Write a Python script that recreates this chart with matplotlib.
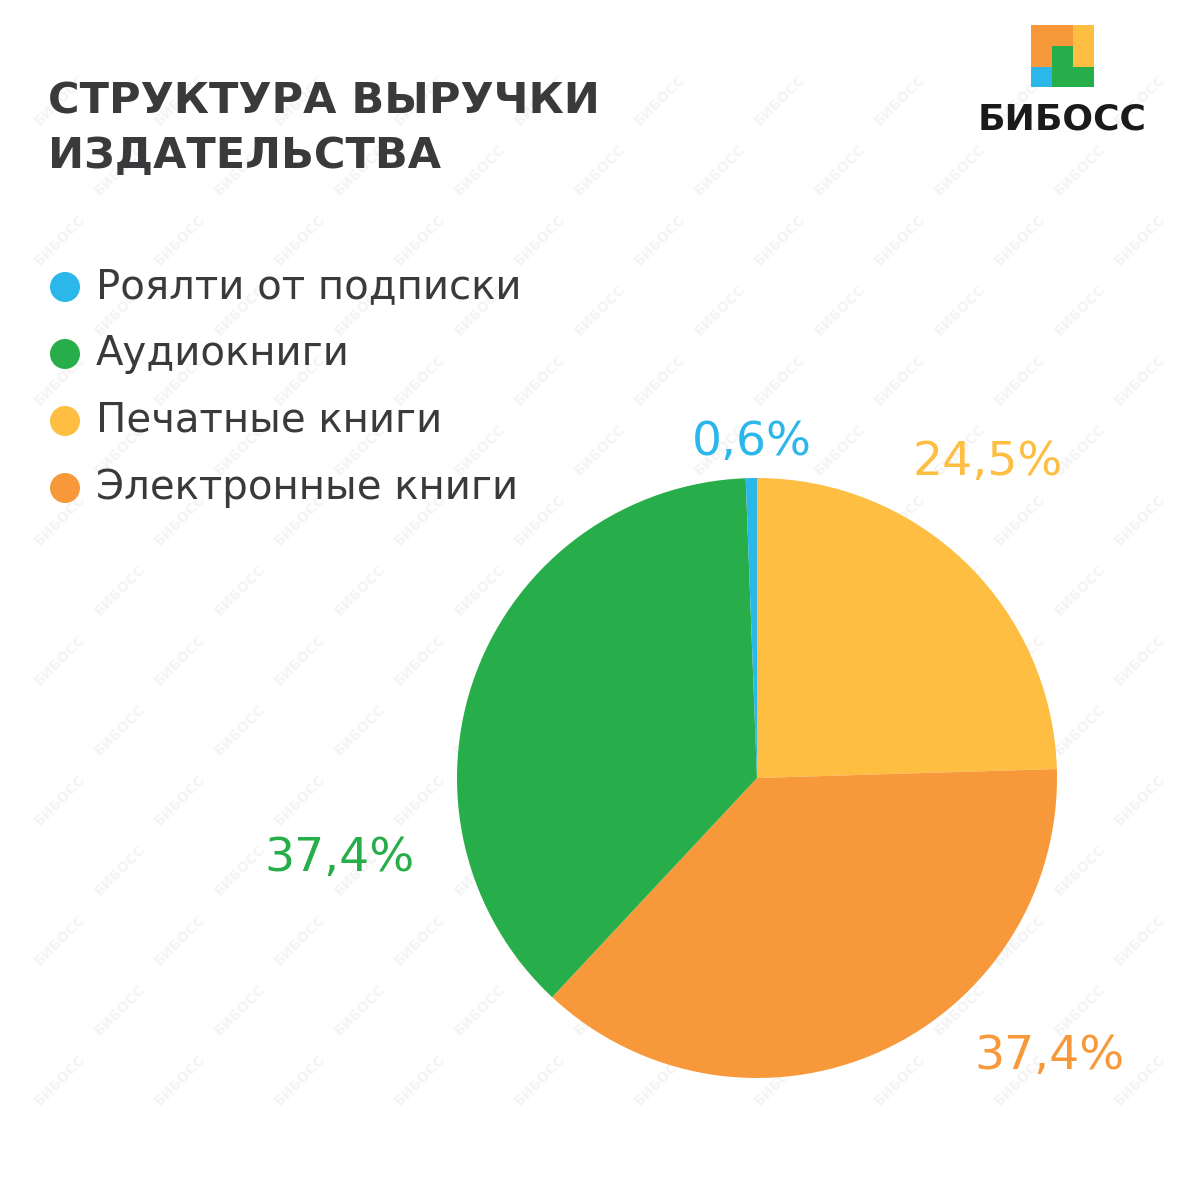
import numpy as np
import matplotlib.pyplot as plt
from matplotlib.patches import Rectangle, Circle

# --- DATA ---
categories = ['Роялти от подписки', 'Аудиокниги', 'Печатные книги', 'Электронные книги']
colors = ['#2BB7EA', '#27AE4A', '#FDBE41', '#F7993B']
# pie order (clockwise from top): printed, e-books, audio, royalties
pie_values = [24.5, 37.4, 37.4, 0.6]
pie_colors = [colors[2], colors[3], colors[1], colors[0]]
pie_labels = ['24,5%', '37,4%', '37,4%', '0,6%']

W = H = 1180
plt.rcParams['font.family'] = ['DejaVu Sans']

fig = plt.figure(figsize=(W / 100, H / 100), dpi=100)
fig.patch.set_facecolor('white')

lax = fig.add_axes([0, 0, 1, 1], zorder=1)
lax.set_xlim(0, W)
lax.set_ylim(H, 0)
lax.axis('off')

# --- watermark ---
for j in range(0, 20):
    for i in range(-2, 14):
        x = i * 120 + (j % 2) * 60
        y = j * 70 + 30
        if 40 <= x <= W - 40 and 40 <= y <= H - 40:
            lax.text(x, y, 'БИБОСС', fontsize=10, fontweight='bold', color='#f4f4f4',
                     rotation=45, ha='center', va='center', zorder=0)

# --- title ---
lax.text(48, 102, 'СТРУКТУРА ВЫРУЧКИ', fontsize=31, fontweight='bold',
         color='#3a3a3c', ha='left', va='center')
lax.text(48, 156, 'ИЗДАТЕЛЬСТВА', fontsize=31, fontweight='bold',
         color='#3a3a3c', ha='left', va='center')

# --- logo ---
lax.add_patch(Rectangle((1031, 25), 42, 42, color=colors[3], lw=0))
lax.add_patch(Rectangle((1073, 25), 21, 42, color=colors[2], lw=0))
lax.add_patch(Rectangle((1052, 46), 21, 41, color=colors[1], lw=0))
lax.add_patch(Rectangle((1052, 67), 42, 20, color=colors[1], lw=0))
lax.add_patch(Rectangle((1031, 67), 21, 20, color=colors[0], lw=0))
lax.text(1062, 119, 'БИБОСС', fontsize=26, fontweight='bold', color='#1a1a1a',
         ha='center', va='center')

# --- legend ---
for k, (name, col) in enumerate(zip(categories, colors)):
    y = 287 + k * 67
    lax.add_patch(Circle((65, y), 15, color=col, lw=0))
    lax.text(96, y, name, fontsize=29, color='#3a3a3c', ha='left', va='center')

# --- pie ---
ax = fig.add_axes([457 / W, 1 - 1078 / H, 600 / W, 600 / H], zorder=2)
ax.pie(pie_values, colors=pie_colors, startangle=90, counterclock=False,
       wedgeprops=dict(linewidth=0))
ax.set_xlim(-1, 1)
ax.set_ylim(-1, 1)
ax.set_aspect('equal')

# percent labels (figure pixel positions)
label_pos = [(988, 462), (1050, 1057), (340, 858), (752, 443)]
for (x, y), txt, col in zip(label_pos, pie_labels, pie_colors):
    lax.text(x, y, txt, fontsize=34, color=col, ha='center', va='center', zorder=3)

fig.savefig('out.png', dpi=100, facecolor='white')
